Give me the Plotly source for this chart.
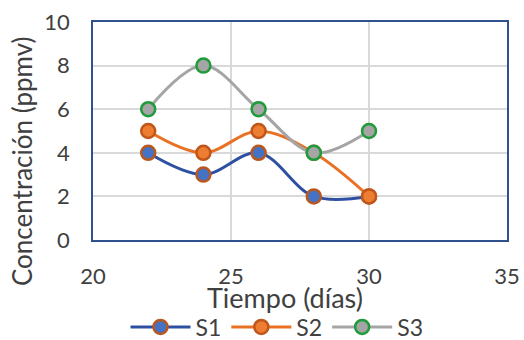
import plotly.graph_objects as go

dias = [22, 24, 26, 28, 30]
s1 = [4, 3, 4, 2, 2]
s2 = [5, 4, 5, 4, 2]
s3 = [6, 8, 6, 4, 5]
x_ticks = [20, 25, 30, 35]
y_ticks = [0, 2, 4, 6, 8, 10]

series = [
    ("S1", s1, "#2E50A2", "#4472C4", "#B8581E"),
    ("S2", s2, "#E97123", "#ED7D31", "#C0561A"),
    ("S3", s3, "#A5A5A5", "#A5A5A5", "#1E9B3A"),
]

fig = go.Figure()
for name, vals, lc, mf, mb in series:
    fig.add_trace(go.Scatter(
        x=dias, y=vals, name=name, mode="lines+markers",
        line=dict(color=lc, width=3, shape="spline", smoothing=1),
        marker=dict(size=14, color=mf, line=dict(color=mb, width=2.5)),
    ))

W, H = 524, 340
L, R, T, B = 93, 17, 22, 100
pw, ph = W - L - R, H - T - B

font = "Lato, 'Open Sans', sans-serif"
fig.update_layout(
    width=W, height=H,
    margin=dict(l=L, r=R, t=T, b=B, autoexpand=False),
    paper_bgcolor="white", plot_bgcolor="white",
    font=dict(family=font, size=22, color="#404040"),
    showlegend=True,
    legend=dict(orientation="h", x=(277 - L) / pw, xanchor="center",
                y=(H - B - 327) / ph, yanchor="middle",
                font=dict(size=23, color="#404040"), itemwidth=60,
                tracegroupgap=0, bgcolor="rgba(0,0,0,0)"),
    xaxis=dict(range=[20, 35], tickvals=x_ticks, showgrid=True, gridcolor="#D9D9D9",
               gridwidth=2, showline=True, linecolor="#2F528F", linewidth=1.5, mirror=True,
               ticklabelstandoff=16, zeroline=False,
               tickfont=dict(size=22, color="#404040")),
    yaxis=dict(range=[0, 10], tickvals=y_ticks, showgrid=True, gridcolor="#D9D9D9",
               gridwidth=2, showline=True, linecolor="#2F528F", linewidth=1.5, mirror=True,
               ticklabelstandoff=17, zeroline=False,
               tickfont=dict(size=22, color="#404040")),
    annotations=[
        dict(text="Tiempo (días)", x=(285 - L) / pw, y=(H - B - 297) / ph,
             xref="paper", yref="paper", xanchor="center", yanchor="middle",
             showarrow=False, font=dict(size=27, color="#404040")),
        dict(text="Concentración (ppmv)", x=(22 - L) / pw, y=(H - B - 162) / ph,
             xref="paper", yref="paper", xanchor="center", yanchor="middle",
             textangle=-90, showarrow=False, font=dict(size=26, color="#404040")),
    ],
)

fig.write_html("out.html", config={"displayModeBar": False},
               post_script="document.body.style.margin='0';")
